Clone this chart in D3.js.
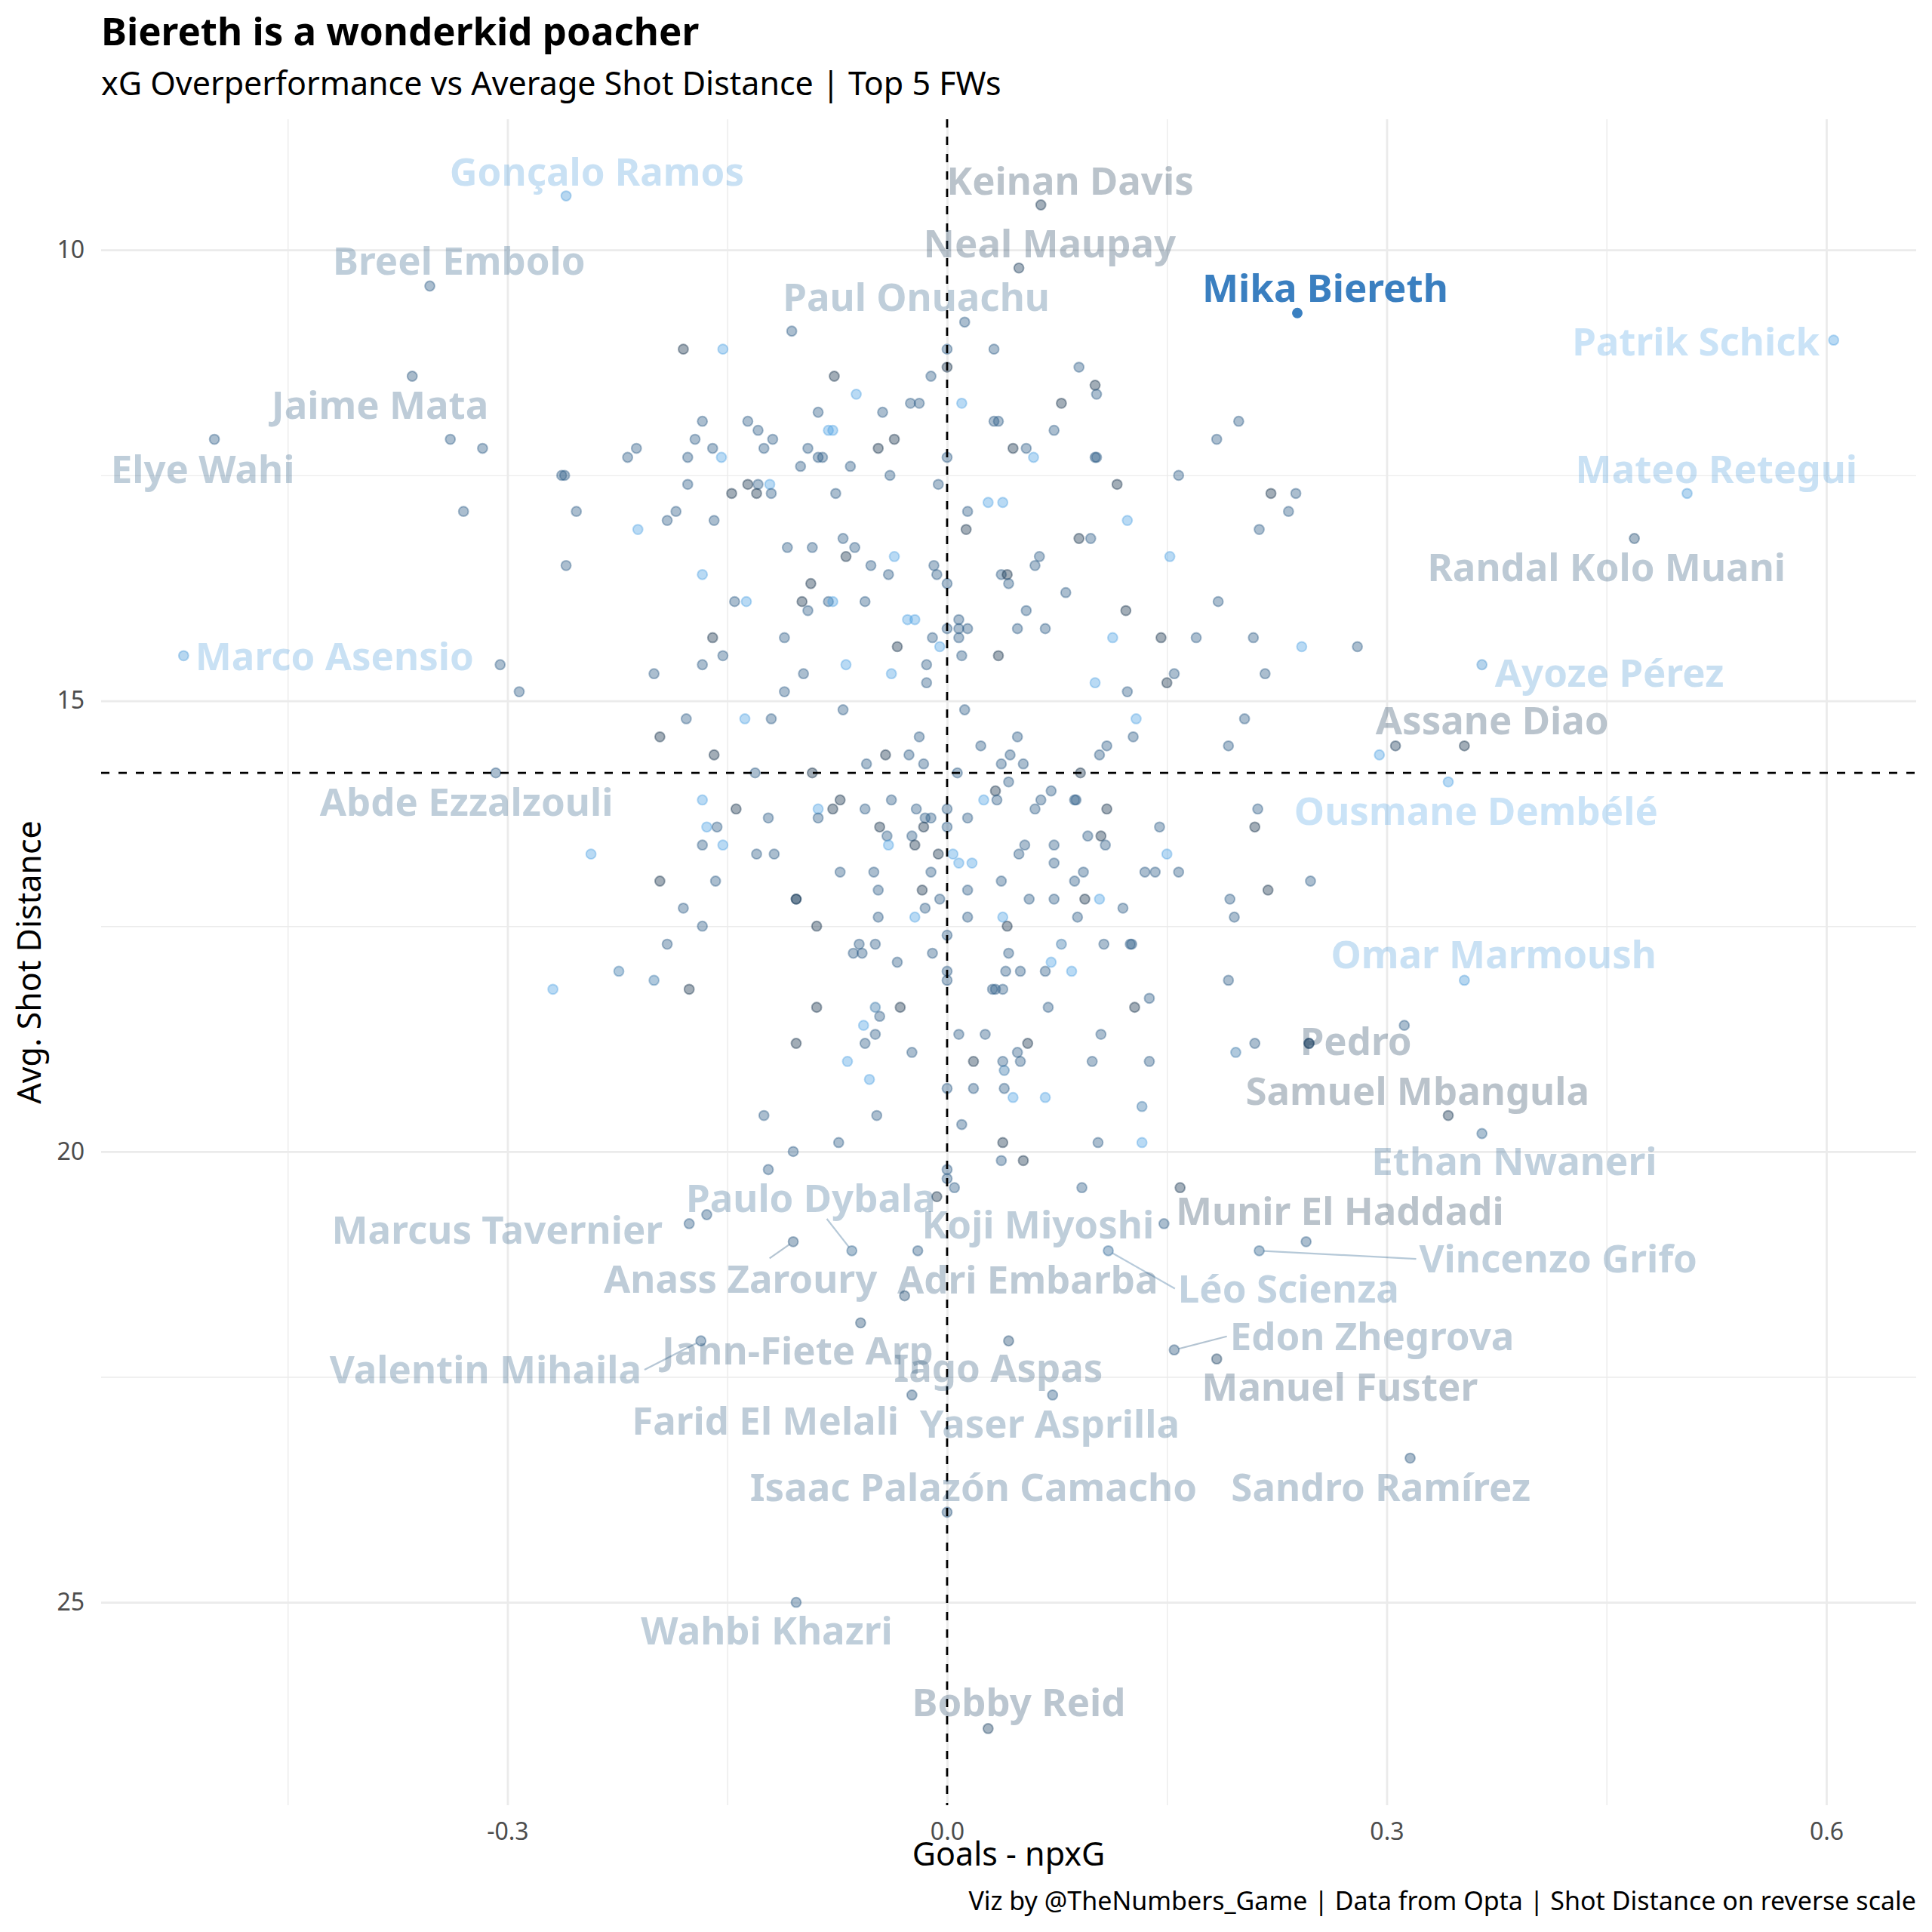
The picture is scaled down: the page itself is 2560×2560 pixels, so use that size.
<!DOCTYPE html>
<html>
<head>
<meta charset="utf-8">
<script src="https://cdn.jsdelivr.net/npm/d3@7"></script>
<style>
  body { margin: 0; background: #fff; }
  svg { display: block; }
  text { font-family: "Noto Sans", sans-serif; }
</style>
</head>
<body>
<svg id="chart" width="2560" height="2560"></svg>
<script>
// ---- data: [goals - npxG, avg shot distance, colour tone (0 = navy .. 1 = light blue)] ----
const upperLeft = [
  [-0.106,10.9,.4],[-0.180,11.1,.05],[-0.153,11.1,.9],[0.000,11.1,.4],[0.000,11.3,.05],[-0.077,11.4,.05],
  [-0.011,11.4,.4],[-0.062,11.6,.9],[-0.025,11.7,.4],[-0.019,11.7,.4],[0.010,11.7,.9],[-0.088,11.8,.4],
  [-0.044,11.8,.4],[-0.167,11.9,.4],[-0.136,11.9,.4],[-0.129,12.0,.4],[-0.081,12.0,.9],[-0.078,12.0,.9],
  [-0.172,12.1,.4],[-0.119,12.1,.4],[-0.036,12.1,.05],[-0.339,12.1,.4],[-0.317,12.2,.4],[-0.212,12.2,.4],
  [-0.160,12.2,.4],[-0.125,12.2,.4],[-0.095,12.2,.4],[-0.047,12.2,.05],[-0.218,12.3,.4],[-0.177,12.3,.4],
  [-0.154,12.3,.9],[-0.088,12.3,.4],[-0.085,12.3,.4],[0.000,12.3,.4],[-0.100,12.4,.4],[-0.066,12.4,.4],
  [-0.263,12.5,.4],[-0.261,12.5,.4],[-0.039,12.5,.4],[-0.177,12.6,.4],[-0.136,12.6,.05],[-0.129,12.6,.4],
  [-0.121,12.6,.9],[-0.006,12.6,.4],[-0.147,12.7,.05],[-0.130,12.7,.05],[-0.120,12.7,.4],[-0.076,12.7,.4],
  [-0.330,12.9,.4],[-0.253,12.9,.4],[-0.185,12.9,.4],[0.014,12.9,.4],[-0.191,13.0,.4],[-0.159,13.0,.4],
  [-0.211,13.1,.9],[0.013,13.1,.05],[-0.071,13.2,.4],[-0.109,13.3,.4],[-0.092,13.3,.4],[-0.063,13.3,.4],
  [-0.069,13.4,.05],[-0.036,13.4,.9],[-0.260,13.5,.4],[-0.052,13.5,.4],[-0.009,13.5,.4],[-0.167,13.6,.9],
  [-0.040,13.6,.4],[-0.007,13.6,.4],[-0.093,13.7,.05],[0.000,13.7,.4],[-0.145,13.9,.4],[-0.137,13.9,.9],
  [-0.099,13.9,.05],[-0.081,13.9,.4],[-0.078,13.9,.9],[-0.056,13.9,.4],[-0.095,14.0,.4],[-0.027,14.1,.9],
  [-0.022,14.1,.9],[0.008,14.1,.4],[0.000,14.2,.4],[0.008,14.2,.4],[0.014,14.2,.4],[-0.160,14.3,.05],
  [-0.111,14.3,.4],[-0.010,14.3,.4],[0.008,14.3,.4],[-0.034,14.4,.05],[-0.005,14.4,.9]
];
const upperRight = [
  [0.032,11.1,.4],[0.090,11.3,.4],[0.101,11.5,.05],[0.102,11.6,.4],[0.078,11.7,.05],[0.032,11.9,.4],
  [0.035,11.9,.4],[0.073,12.0,.4],[0.045,12.2,.05],[0.054,12.2,.4],[0.059,12.3,.9],[0.101,12.3,.4],
  [0.102,12.3,.4],[0.199,11.9,.4],[0.184,12.1,.4],[0.158,12.5,.4],[0.116,12.6,.05],[0.028,12.8,.9],
  [0.038,12.8,.9],[0.123,13.0,.9],[0.221,12.7,.05],[0.238,12.7,.4],[0.233,12.9,.4],[0.213,13.1,.4],
  [0.090,13.2,.05],[0.098,13.2,.4],[0.152,13.4,.9],[0.063,13.4,.4],[0.060,13.5,.4],[0.037,13.6,.4],
  [0.041,13.6,.05],[0.042,13.7,.4],[0.081,13.8,.4],[0.185,13.9,.4],[0.054,14.0,.4],[0.122,14.0,.05],
  [0.048,14.2,.4],[0.067,14.2,.4],[0.113,14.3,.9],[0.146,14.3,.05],[0.170,14.3,.4],[0.209,14.3,.4],
  [0.242,14.4,.9],[0.280,14.4,.4]
];
const middleLeft = [
  [-0.305,14.6,.4],[-0.153,14.5,.4],[-0.200,14.7,.4],[-0.167,14.6,.4],[-0.292,14.9,.4],[-0.111,14.9,.4],
  [-0.098,14.7,.4],[-0.069,14.6,.9],[-0.038,14.7,.9],[-0.014,14.6,.4],[-0.014,14.8,.4],[0.010,14.5,.4],
  [-0.071,15.1,.4],[0.012,15.1,.4],[-0.178,15.2,.4],[-0.138,15.2,.9],[-0.120,15.2,.4],[-0.196,15.4,.05],
  [-0.019,15.4,.4],[-0.159,15.6,.05],[-0.042,15.6,.05],[-0.026,15.6,.4],[-0.055,15.7,.4],[-0.016,15.7,.4],
  [-0.131,15.8,.4],[-0.092,15.8,.05],[0.007,15.8,.4],[-0.167,16.1,.9],[-0.144,16.2,.05],[-0.122,16.3,.4],
  [-0.088,16.2,.9],[-0.088,16.3,.4],[-0.078,16.2,.05],[-0.073,16.1,.05],[-0.056,16.2,.4],[-0.038,16.1,.4],
  [-0.021,16.2,.4],[0.000,16.2,.4],[-0.015,16.3,.4],[-0.011,16.3,.4],[0.014,16.3,.4],[-0.164,16.4,.9],
  [-0.157,16.4,.4],[-0.046,16.4,.05],[-0.016,16.4,.05],[0.000,16.4,.4],[-0.041,16.5,.4],[-0.024,16.5,.4],
  [-0.167,16.6,.4],[-0.153,16.6,.9],[-0.040,16.6,.9],[-0.022,16.6,.05],[-0.243,16.7,.9],[-0.130,16.7,.4],
  [-0.118,16.7,.4],[-0.006,16.7,.05],[0.004,16.7,.9],[0.008,16.8,.9],[0.017,16.8,.9],[-0.073,16.9,.4],
  [-0.050,16.9,.4],[-0.011,16.9,.4],[-0.196,17.0,.05],[-0.158,17.0,.4],[-0.047,17.1,.4],[-0.017,17.1,.05],
  [0.014,17.1,.4],[-0.103,17.2,.4],[-0.103,17.2,.05],[-0.005,17.2,.4],[-0.180,17.3,.4],[-0.015,17.3,.4],
  [-0.047,17.4,.4],[-0.022,17.4,.9],[0.014,17.4,.4],[-0.167,17.5,.4],[-0.089,17.5,.05],[0.000,17.6,.4],
  [-0.191,17.7,.4],[-0.060,17.7,.4],[-0.049,17.7,.4],[-0.064,17.8,.4],[-0.058,17.8,.4],[-0.010,17.8,.4],
  [-0.034,17.9,.4],[-0.224,18.0,.6],[0.000,18.0,.4],[-0.200,18.1,.6],[0.000,18.1,.4],[-0.269,18.2,.9],
  [-0.176,18.2,.05],[-0.089,18.4,.05],[-0.049,18.4,.6],[-0.032,18.4,.05],[-0.046,18.5,.4],[-0.057,18.6,.9],
  [-0.049,18.7,.4],[0.008,18.7,.4],[-0.103,18.8,.05],[-0.056,18.8,.4],[-0.024,18.9,.4],[-0.068,19.0,.9],
  [0.018,19.0,.05],[-0.053,19.2,.9],[0.000,19.3,.4],[0.018,19.3,.4]
];
const middleRight = [
  [0.035,14.5,.05],[0.101,14.8,.9],[0.123,14.9,.4],[0.150,14.8,.05],[0.155,14.7,.4],[0.217,14.7,.4],
  [0.023,15.5,.4],[0.048,15.4,.4],[0.043,15.6,.4],[0.037,15.7,.4],[0.052,15.7,.4],[0.129,15.2,.9],
  [0.127,15.4,.4],[0.109,15.5,.4],[0.104,15.6,.4],[0.091,15.8,.05],[0.203,15.2,.4],[0.192,15.5,.4],
  [0.295,15.6,.9],[0.353,15.5,.05],[0.042,15.9,.4],[0.033,16.0,.05],[0.025,16.1,.9],[0.034,16.1,.4],
  [0.071,16.0,.4],[0.064,16.1,.4],[0.060,16.2,.4],[0.087,16.1,.4],[0.088,16.1,.4],[0.109,16.2,.05],
  [0.212,16.2,.4],[0.210,16.4,.05],[0.145,16.4,.4],[0.096,16.5,.4],[0.105,16.5,.05],[0.108,16.6,.4],
  [0.053,16.6,.4],[0.049,16.7,.4],[0.073,16.6,.4],[0.073,16.8,.4],[0.150,16.7,.9],[0.093,16.9,.4],
  [0.135,16.9,.4],[0.142,16.9,.4],[0.158,16.9,.4],[0.037,17.0,.4],[0.087,17.0,.4],[0.248,17.0,.4],
  [0.219,17.1,.05],[0.056,17.2,.4],[0.073,17.2,.4],[0.094,17.2,.05],[0.104,17.2,.9],[0.120,17.3,.4],
  [0.193,17.2,.4],[0.196,17.4,.4],[0.038,17.4,.9],[0.041,17.5,.05],[0.089,17.4,.4],[0.078,17.7,.6],
  [0.107,17.7,.4],[0.125,17.7,.4],[0.126,17.7,.4],[0.042,17.8,.4],[0.071,17.9,.9],[0.040,18.0,.4],
  [0.050,18.0,.4],[0.067,18.0,.4],[0.085,18.0,.9],[0.192,18.1,.4],[0.031,18.2,.4],[0.033,18.2,.4],
  [0.038,18.2,.4],[0.138,18.3,.4],[0.069,18.4,.4],[0.128,18.4,.05],[0.312,18.6,.4],[0.026,18.7,.4],
  [0.105,18.7,.4],[0.055,18.8,.05],[0.210,18.8,.4],[0.247,18.8,.4],[0.048,18.9,.4],[0.197,18.9,.6],
  [0.038,19.0,.4],[0.050,19.0,.4],[0.099,19.0,.4],[0.138,19.0,.4],[0.039,19.1,.6],[0.039,19.3,.4]
];
const lower = [
  [-0.125,19.6,.4],[-0.048,19.6,.4],[0.010,19.7,.4],[-0.074,19.9,.4],[-0.105,20.0,.4],[-0.122,20.2,.4],
  [0.000,20.2,.4],[0.000,20.3,.4],[0.005,20.4,.4],[-0.007,20.5,.05],[-0.164,20.7,.4],[-0.020,21.1,.4],
  [0.045,19.4,.9],[0.067,19.4,.9],[0.133,19.5,.6],[0.038,19.9,.05],[0.103,19.9,.4],[0.133,19.9,.9],
  [0.037,20.1,.4],[0.052,20.1,.05],[0.092,20.4,.4],[0.245,21.0,.4]
];

// labelled players
const labelNames = ["Gonçalo Ramos","Keinan Davis","Neal Maupay","Breel Embolo","Paul Onuachu","Mika Biereth",
  "Patrik Schick","Jaime Mata","Elye Wahi","Mateo Retegui","Randal Kolo Muani","Marco Asensio","Ayoze Pérez",
  "Assane Diao","Abde Ezzalzouli","Ousmane Dembélé","Omar Marmoush","Pedro","Samuel Mbangula","Ethan Nwaneri",
  "Paulo Dybala","Munir El Haddadi","Marcus Tavernier","Koji Miyoshi","Vincenzo Grifo","Anass Zaroury",
  "Adri Embarba","Léo Scienza","Edon Zhegrova","Jann-Fiete Arp","Valentin Mihaila","Iago Aspas","Manuel Fuster",
  "Farid El Melali","Yaser Asprilla","Isaac Palazón Camacho","Sandro Ramírez","Wahbi Khazri","Bobby Reid"];
const labelX = [-0.260,0.064,0.049,-0.353,0.012,0.239,0.605,-0.365,-0.500,0.505,0.469,-0.521,0.365,
  0.306,-0.308,0.342,0.353,0.247,0.342,0.365,-0.065,0.159,-0.176,0.148,0.213,-0.105,
  -0.029,0.110,0.155,-0.059,-0.168,0.042,0.184,-0.024,0.072,0.000,0.316,-0.103,0.028];
const labelY = [9.4,9.5,10.2,10.4,10.8,10.7,11.0,11.4,12.1,12.7,13.2,14.5,14.6,
  15.5,15.8,15.9,18.1,18.8,19.6,19.8,21.1,20.4,20.8,20.8,21.1,21.0,
  21.6,21.1,22.2,21.9,22.1,22.1,22.3,22.7,22.7,24.0,23.4,25.0,26.4];
const labelTone = [0.85,0.1,0.15,0.4,0.4,0.7,0.9,0.35,0.4,0.85,0.3,0.85,0.8,
  0.15,0.4,0.9,0.85,0.15,0.1,0.45,0.45,0.1,0.4,0.4,0.45,0.35,
  0.3,0.5,0.35,0.3,0.4,0.3,0.2,0.35,0.4,0.35,0.35,0.4,0.2];
const highlight = "Mika Biereth";
const avgShotDistance = 15.8;

// where the repelled labels ended up (label centre, in data units)
const spotX = [-0.239,0.084,0.070,-0.333,-0.021,0.258,0.511,-0.387,-0.508,0.525,0.450,-0.418,0.452,
  0.372,-0.328,0.361,0.373,0.279,0.321,0.387,-0.093,0.268,-0.307,0.062,0.417,-0.141,
  0.055,0.233,0.290,-0.102,-0.315,0.035,0.268,-0.124,0.070,0.018,0.296,-0.123,0.049];
const spotY = [9.13,9.23,9.93,10.12,10.52,10.42,11.02,11.72,12.43,12.43,13.52,14.51,14.69,
  15.22,16.12,16.22,17.81,18.78,19.33,20.11,20.52,20.66,20.87,20.81,21.19,21.41,
  21.42,21.52,22.05,22.21,22.42,22.40,22.61,22.99,23.02,23.72,23.72,25.31,26.11];
const withSegment = ["Paulo Dybala","Anass Zaroury","Léo Scienza","Vincenzo Grifo","Edon Zhegrova","Valentin Mihaila"];

const majorX = [-0.3, 0, 0.3, 0.6], minorX = [-0.45, -0.15, 0.15, 0.45];
const majorY = [10, 15, 20, 25], minorY = [12.5, 17.5, 22.5];

// ---- layout ----
const svg = d3.select("#chart");
const panel = { left: 134, right: 2539, top: 158, bottom: 2392 };
const others = [].concat(upperLeft, upperRight, middleLeft, middleRight, lower);

const xs = others.map(d => d[0]).concat(labelX);
const ys = others.map(d => d[1]).concat(labelY);
const [xMin, xMax] = d3.extent(xs), [yMin, yMax] = d3.extent(ys);
const padX = (xMax - xMin) * 0.05, padY = (yMax - yMin) * 0.05;

const x = d3.scaleLinear().domain([xMin - padX, xMax + padX]).range([panel.left, panel.right]);
// shot distance on reverse scale: short distances at the top
const y = d3.scaleLinear().domain([yMin - padY, yMax + padY]).range([panel.top, panel.bottom]);
const colour = d3.scaleLinear().domain([0, 1]).range(["#132B43", "#56B1F7"]).interpolate(d3.interpolateLab);

svg.append("rect").attr("width", 2560).attr("height", 2560).attr("fill", "#fff");

// grid lines
const gridX = (vals, w) => svg.append("g")
  .attr("transform", `translate(0,${panel.bottom})`)
  .call(d3.axisBottom(x).tickValues(vals).tickSize(-(panel.bottom - panel.top)).tickFormat(""))
  .call(g => g.select(".domain").remove())
  .call(g => g.selectAll("line").attr("stroke", "#ebebeb").attr("stroke-width", w));
const gridY = (vals, w) => svg.append("g")
  .attr("transform", `translate(${panel.left},0)`)
  .call(d3.axisLeft(y).tickValues(vals).tickSize(-(panel.right - panel.left)).tickFormat(""))
  .call(g => g.select(".domain").remove())
  .call(g => g.selectAll("line").attr("stroke", "#ebebeb").attr("stroke-width", w));
gridX(minorX, 1.4); gridY(minorY, 1.4);
gridX(majorX, 2.8); gridY(majorY, 2.8);

// tick labels
svg.append("g")
  .attr("transform", `translate(0,${panel.bottom})`)
  .call(d3.axisBottom(x).tickValues(majorX).tickSize(0).tickPadding(23).tickFormat(d => d.toFixed(1)))
  .call(g => g.select(".domain").remove())
  .call(g => g.selectAll("text").attr("font-size", 32).attr("font-family", "Noto Sans").attr("fill", "#4d4d4d"));
svg.append("g")
  .attr("transform", `translate(${panel.left},0)`)
  .call(d3.axisLeft(y).tickValues(majorY).tickSize(0).tickPadding(22))
  .call(g => g.select(".domain").remove())
  .call(g => g.selectAll("text").attr("font-size", 32).attr("font-family", "Noto Sans").attr("fill", "#4d4d4d"));

// points
const dot = sel => sel
  .attr("r", 6.4)
  .attr("fill", d => colour(d[2])).attr("fill-opacity", 0.4)
  .attr("stroke", d => colour(d[2])).attr("stroke-opacity", 0.4).attr("stroke-width", 2);

svg.append("g").selectAll("circle")
  .data(others)
  .join("circle")
  .attr("cx", d => x(d[0])).attr("cy", d => y(d[1]))
  .call(dot);

const labelled = labelNames.map((name, i) => ({
  name, gx: labelX[i], gy: labelY[i], tone: labelTone[i], sx: spotX[i], sy: spotY[i]
}));

svg.append("g").selectAll("circle")
  .data(labelled.filter(d => d.name !== highlight).map(d => [d.gx, d.gy, d.tone]))
  .join("circle")
  .attr("cx", d => x(d[0])).attr("cy", d => y(d[1]))
  .call(dot);

// reference lines
svg.append("line")
  .attr("x1", x(0)).attr("x2", x(0)).attr("y1", panel.top).attr("y2", panel.bottom)
  .attr("stroke", "#000").attr("stroke-width", 2.8).attr("stroke-dasharray", "11 12");
svg.append("line")
  .attr("x1", panel.left).attr("x2", panel.right).attr("y1", y(avgShotDistance)).attr("y2", y(avgShotDistance))
  .attr("stroke", "#000").attr("stroke-width", 2.8).attr("stroke-dasharray", "11 12");

// highlighted player
const star = labelled.find(d => d.name === highlight);
svg.append("circle")
  .attr("cx", x(star.gx)).attr("cy", y(star.gy)).attr("r", 7)
  .attr("fill", "#3a80c1");

// labels
const labelG = svg.append("g");
const segG = svg.insert("g", () => labelG.node());
labelled.forEach(d => {
  const isStar = d.name === highlight;
  const t = labelG.append("text")
    .attr("x", x(d.sx)).attr("y", y(d.sy)).attr("dy", "0.36em")
    .attr("text-anchor", "middle")
    .attr("font-size", 51).attr("font-weight", 700)
    .attr("fill", isStar ? "#3a7fc0" : colour(d.tone))
    .attr("fill-opacity", isStar ? 1 : 0.3)
    .text(d.name);

  if (withSegment.includes(d.name)) {
    // connect like ggrepel: side-middle when the point is beside the label, else top/bottom edge
    const bb = t.node().getBBox();
    const cx = x(d.sx), cy = y(d.sy);
    const hw = bb.width / 2 + 4, hh = 27;
    const px = x(d.gx), py = y(d.gy);
    let ex, ey;
    if (px < cx - hw || px > cx + hw) {
      ex = px < cx ? cx - hw : cx + hw;
      ey = cy;
    } else {
      ey = py < cy ? cy - hh : cy + hh;
      ex = cx + (px - cx) * (ey - cy) / (py - cy);
    }
    const len = Math.hypot(px - ex, py - ey);
    const k = (len - 6) / len;
    segG.append("line")
      .attr("x1", ex).attr("y1", ey)
      .attr("x2", ex + (px - ex) * k).attr("y2", ey + (py - ey) * k)
      .attr("stroke", colour(d.tone)).attr("stroke-opacity", 0.35).attr("stroke-width", 2.2);
  }
});

// titles
svg.append("text").attr("x", 134).attr("y", 60)
  .attr("font-size", 51).attr("font-weight", 700).attr("fill", "#000")
  .text("Biereth is a wonderkid poacher");
svg.append("text").attr("x", 134).attr("y", 126)
  .attr("font-size", 43).attr("fill", "#000")
  .text("xG Overperformance vs Average Shot Distance | Top 5 FWs");
svg.append("text").attr("x", (panel.left + panel.right) / 2).attr("y", 2472)
  .attr("text-anchor", "middle").attr("font-size", 43).attr("fill", "#000")
  .text("Goals - npxG");
svg.append("text")
  .attr("transform", `translate(54,${(panel.top + panel.bottom) / 2}) rotate(-90)`)
  .attr("text-anchor", "middle").attr("font-size", 43).attr("fill", "#000")
  .text("Avg. Shot Distance");
svg.append("text").attr("x", panel.right).attr("y", 2531)
  .attr("text-anchor", "end").attr("font-size", 34).attr("fill", "#000")
  .text("Viz by @TheNumbers_Game | Data from Opta | Shot Distance on reverse scale");
</script>
</body>
</html>
